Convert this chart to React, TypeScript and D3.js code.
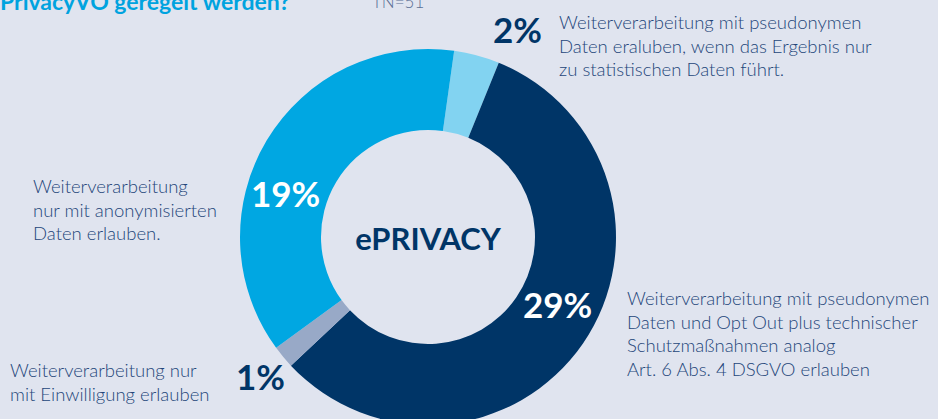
import React from 'react';
import * as d3 from 'd3';

// Anteile (Prozent) in Reihenfolge im Uhrzeigersinn ab oben
const shares = [2, 29, 1, 19];
const shareLabels = ['2%', '29%', '1%', '19%'];
const sliceColors = ['#82d3f1', '#003567', '#98a9c7', '#00a7e2'];
const descriptions = [
  ['Weiterverarbeitung mit pseudonymen', 'Daten eraluben, wenn das Ergebnis nur', 'zu statistischen Daten führt.'],
  ['Weiterverarbeitung mit pseudonymen', 'Daten und Opt Out plus technischer', 'Schutzmaßnahmen analog', 'Art. 6 Abs. 4 DSGVO erlauben'],
  ['Weiterverarbeitung nur', 'mit Einwilligung erlauben'],
  ['Weiterverarbeitung', 'nur mit anonymisierten', 'Daten erlauben.'],
];
const centerLabel = 'ePRIVACY';
const titleText = 'PrivacyVO geregelt werden?';
const sampleText = 'TN=51';

const W = 938;
const H = 419;
const cx = 428;
const cy = 237;
const outerR = 188;
const innerR = 107;

const font = 'Lato, "Open Sans", sans-serif';
const textColor = '#24467a';

// Lage der Prozentzahlen und Beschreibungen
const pctPos = [
  { x: 493, y: 43, fill: '#003567' },
  { x: 523, y: 318, fill: '#ffffff' },
  { x: 236, y: 390, fill: '#003567' },
  { x: 251, y: 207, fill: '#ffffff' },
];
const descPos = [
  { x: 559, y: 29 },
  { x: 627, y: 305 },
  { x: 10, y: 377 },
  { x: 33, y: 193 },
];

export default function App() {
  const pie = d3.pie<number>()
    .sort(null)
    .value(d => d)
    .startAngle((8 * Math.PI) / 180)
    .endAngle((8 * Math.PI) / 180 + 2 * Math.PI);
  const arcs = pie(shares);
  const arc = d3.arc<d3.PieArcDatum<number>>().innerRadius(innerR).outerRadius(outerR);

  return (
    <svg width={W} height={H} style={{ position: 'absolute', left: 0, top: 0 }} fontFamily={font}>
      <rect x={0} y={0} width={W} height={H} fill="#e0e4ef" />
      <text x={0} y={10} fill="#00a3df" fontWeight={700} fontSize={23}>{titleText}</text>
      <text x={372} y={8} fill="#5b6f95" fontWeight={300} fontSize={17}>{sampleText}</text>

      <g transform={`translate(${cx},${cy})`}>
        {arcs.map((a, i) => (
          <path key={i} d={arc(a) || ''} fill={sliceColors[i]} />
        ))}
      </g>
      <text x={cx} y={250} textAnchor="middle" fill="#003567" fontWeight={700} fontSize={31}>{centerLabel}</text>

      {shareLabels.map((t, i) => (
        <text key={'p' + i} x={pctPos[i].x} y={pctPos[i].y} fill={pctPos[i].fill}
          fontWeight={700} fontSize={35}>{t}</text>
      ))}
      {descriptions.map((lines, i) => (
        <text key={'d' + i} x={descPos[i].x} y={descPos[i].y} fill={textColor} fontWeight={300} fontSize={18.5}>
          {lines.map((l, j) => (
            <tspan key={j} x={descPos[i].x} dy={j === 0 ? 0 : 23.5}>{l}</tspan>
          ))}
        </text>
      ))}
    </svg>
  );
}
